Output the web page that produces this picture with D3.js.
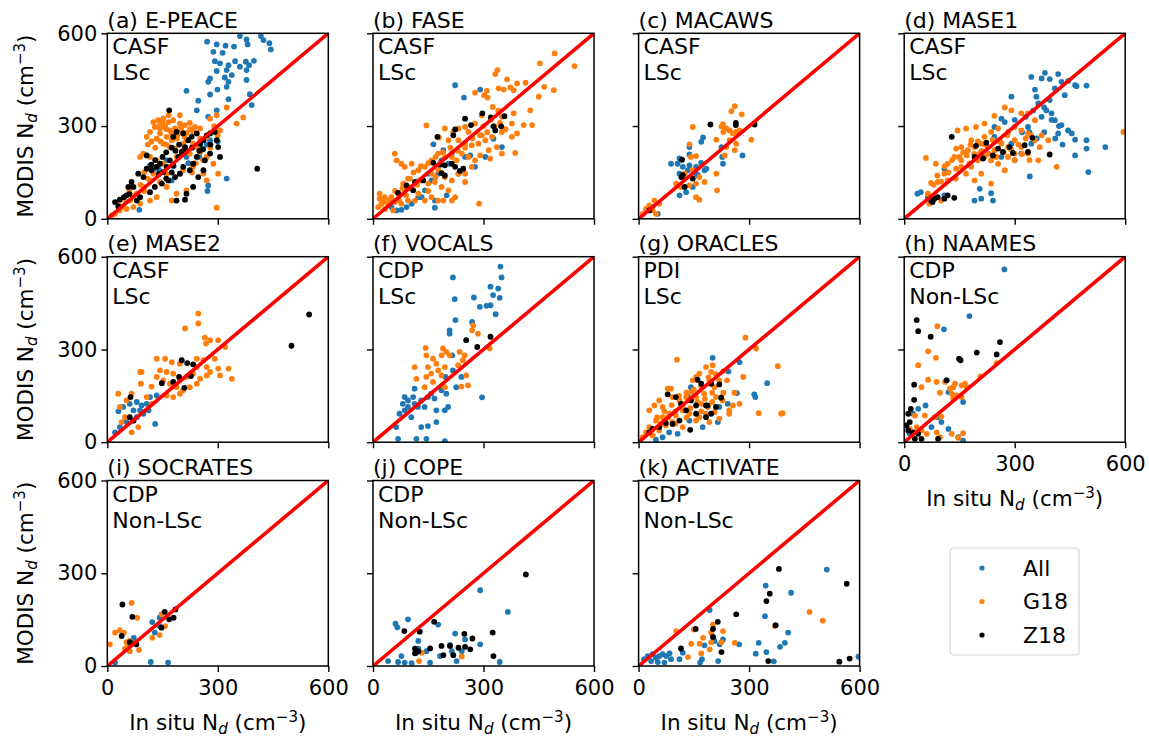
<!DOCTYPE html>
<html>
<head>
<meta charset="utf-8">
<script src="https://cdn.jsdelivr.net/npm/d3@7"></script>
<style>
  body { margin: 0; background: #fff; }
  text { font-family: "DejaVu Sans", sans-serif; }
</style>
</head>
<body>
<script>
// panel labels
var campaigns = ["(a) E-PEACE", "(b) FASE", "(c) MACAWS", "(d) MASE1", "(e) MASE2", "(f) VOCALS",
  "(g) ORACLES", "(h) NAAMES", "(i) SOCRATES", "(j) COPE", "(k) ACTIVATE"];
var probes = ["CASF", "CASF", "CASF", "CASF", "CASF", "CDP", "PDI", "CDP", "CDP", "CDP", "CDP"];
var regimes = ["LSc", "LSc", "LSc", "LSc", "LSc", "LSc", "LSc", "Non-LSc", "Non-LSc", "Non-LSc", "Non-LSc"];
var seriesNames = ["All", "G18", "Z18"];
var seriesColors = ["#1f77b4", "#ff7f0e", "#000000"];
var xTicks = [0, 300, 600];
var yTicks = [0, 300, 600];

// [in situ Nd, MODIS Nd]
var ePeaceAll = [[271,573],[297,564],[321,560],[344,557],[360,591],[378,580],[381,564],[417,591],[424,578],[440,568],[444,548],[288,540],[313,537],[292,510],[306,503],[329,497],[347,510],[324,481],[360,492],[376,508],[385,497],[398,511],[378,481],[297,478],[319,457],[329,443],[324,427],[338,465],[279,454],[274,443],[279,402],[299,418],[215,414],[329,387],[378,449],[387,403],[392,368],[247,382],[243,351],[297,351],[274,330],[116,173],[129,162],[175,124],[324,130],[272,90],[87,29],[274,108],[161,189],[215,200],[252,232],[279,254],[197,146],[140,160],[180,170],[220,180],[250,200],[270,240],[300,250]];
var ePeaceG18 = [[125,313],[138,319],[152,324],[166,313],[179,319],[197,308],[211,303],[224,310],[238,297],[129,297],[143,292],[157,299],[170,286],[184,292],[202,284],[215,278],[143,276],[161,265],[175,254],[188,259],[206,243],[134,259],[152,243],[170,232],[184,227],[116,281],[107,265],[98,211],[89,200],[116,200],[134,189],[152,178],[188,200],[233,243],[252,259],[270,265],[279,324],[297,335],[324,360],[351,308],[369,328],[306,286],[252,216],[270,200],[288,178],[301,146],[261,146],[270,124],[233,168],[206,157],[215,92],[188,81],[161,103],[143,119],[134,70],[116,59],[89,49],[71,38],[52,32],[34,27],[21,16],[12,11],[30,43],[62,59],[80,81],[98,103],[116,124],[297,36],[175,59],[161,146],[125,146],[233,281],[252,292],[197,335],[166,335],[143,303],[215,254],[243,232],[206,222],[224,211],[110,240],[120,250],[130,230],[145,250],[160,240],[175,275],[190,270],[200,295],[150,310],[160,290],[225,290],[210,265],[100,150],[110,130],[60,90],[70,75],[40,40],[50,55],[90,110],[100,90],[230,150],[240,180],[260,190],[280,230],[290,300],[300,270]];
var ePeaceZ18 = [[21,54],[34,62],[52,76],[71,103],[66,119],[84,146],[98,135],[107,162],[120,157],[134,168],[143,178],[152,151],[161,168],[170,189],[179,173],[193,200],[202,216],[211,232],[220,254],[229,265],[243,276],[252,243],[261,254],[270,270],[279,276],[292,281],[297,254],[301,232],[306,200],[279,211],[265,189],[243,200],[233,178],[224,157],[206,168],[197,146],[184,135],[166,124],[148,114],[129,103],[116,86],[89,70],[80,59],[57,103],[107,205],[233,103],[215,81],[188,59],[247,135],[261,157],[206,276],[188,281],[179,265],[168,351],[407,162],[211,62],[120,175],[130,190],[150,200],[160,215],[175,230],[185,220],[195,240],[215,220],[230,230],[250,220],[260,225],[280,240],[140,145],[160,130],[175,150],[60,80],[45,70],[30,40]];

var faseAll = [[223,432],[291,418],[247,392],[164,241],[191,222],[168,59],[50,38],[64,27],[77,29],[91,38],[105,49],[123,70],[141,92],[159,124],[177,146],[205,178],[214,211],[250,200],[264,205],[277,168],[305,200],[350,232],[327,259],[168,36],[132,70],[200,76],[232,146],[186,189],[150,146]];
var faseG18 = [[493,535],[547,494],[453,503],[338,481],[332,468],[364,451],[391,438],[382,416],[341,422],[355,418],[373,425],[309,414],[277,408],[302,400],[311,392],[414,440],[465,427],[491,416],[450,395],[427,351],[382,341],[350,330],[325,362],[295,335],[277,308],[250,297],[259,281],[232,292],[218,281],[195,292],[179,263],[205,254],[232,254],[250,243],[268,238],[286,243],[305,254],[323,265],[295,270],[350,281],[377,308],[409,303],[432,303],[391,276],[377,265],[336,232],[314,222],[291,205],[318,195],[350,211],[386,213],[277,189],[259,200],[241,211],[227,189],[214,200],[195,200],[177,211],[159,189],[145,302],[59,211],[64,189],[77,178],[86,168],[105,178],[123,157],[141,168],[159,146],[177,157],[195,135],[214,124],[232,146],[250,146],[186,103],[205,92],[223,70],[214,59],[177,59],[159,70],[141,59],[123,81],[105,103],[86,92],[68,81],[50,70],[32,70],[18,65],[23,49],[41,49],[59,54],[77,49],[95,59],[114,59],[14,38],[32,32],[55,27],[18,81],[82,114],[95,130],[288,49],[191,59],[250,119],[268,168],[127,124],[150,114],[168,119],[100,130],[110,150],[130,170],[150,180],[170,200],[190,215],[210,230],[230,220],[250,230],[270,260],[290,270],[310,280],[330,300],[345,310],[360,290],[300,300],[320,320],[340,350],[60,90],[80,100],[100,100],[120,110],[30,55],[45,60],[70,60],[90,75],[150,90],[170,135]];
var faseZ18 = [[250,324],[297,341],[320,328],[357,332],[223,289],[218,270],[266,303],[327,299],[348,299],[332,286],[175,265],[164,181],[182,175],[195,173],[214,178],[223,168],[236,155],[245,162],[186,148],[195,140],[136,124],[114,119],[91,108],[109,92],[68,84]];

var macawsAll = [[175,263],[170,249],[138,232],[138,208],[111,195],[88,178],[106,178],[120,168],[138,173],[156,168],[170,181],[179,157],[184,162],[156,146],[134,157],[111,146],[225,232],[227,200],[229,178],[282,205],[111,76],[129,86],[147,103],[161,141],[52,16],[38,38]];
var macawsG18 = [[261,364],[280,338],[252,348],[229,306],[225,299],[147,297],[238,292],[247,286],[256,276],[265,281],[274,286],[230,281],[211,256],[306,256],[247,254],[265,243],[138,241],[261,222],[234,205],[238,232],[156,203],[142,200],[125,146],[147,157],[165,135],[179,119],[156,114],[138,108],[102,114],[115,103],[211,146],[213,92],[156,70],[165,62],[20,32],[29,43],[38,27],[47,16],[56,49],[43,59],[11,16]];
var macawsZ18 = [[195,305],[264,303],[315,305],[264,310],[118,191],[116,135],[120,141],[125,103],[147,130],[29,27]];

var mase1All = [[345,459],[382,472],[373,454],[395,452],[418,468],[427,443],[445,446],[464,432],[468,429],[495,431],[355,418],[359,395],[409,422],[436,400],[395,384],[364,373],[386,351],[373,330],[400,341],[409,319],[427,303],[445,286],[418,276],[455,276],[464,256],[495,254],[495,227],[546,232],[464,205],[500,151],[291,395],[264,324],[245,297],[273,313],[336,297],[345,243],[318,211],[264,200],[300,189],[341,137],[191,59],[209,65],[241,59],[236,83],[205,97],[45,86],[36,81],[64,70],[109,76],[109,162],[291,243],[245,265],[330,330],[350,350],[380,360],[400,320],[420,300],[340,280],[360,260],[380,280],[410,260],[430,240],[300,320],[320,280]];
var mase1G18 = [[595,281],[245,333],[273,360],[291,351],[318,341],[145,286],[168,292],[195,297],[218,308],[236,281],[255,292],[282,281],[300,297],[318,286],[336,276],[355,254],[368,232],[336,211],[318,232],[300,254],[282,232],[264,243],[245,222],[227,232],[209,243],[191,232],[173,222],[155,232],[141,227],[136,200],[155,189],[177,178],[200,189],[218,200],[236,189],[255,178],[282,200],[300,211],[273,157],[236,114],[209,146],[191,124],[168,146],[141,162],[118,178],[86,178],[59,197],[109,146],[91,119],[73,116],[64,81],[100,59],[68,49],[364,189],[414,168],[373,270],[391,254],[336,341],[355,319],[218,265],[182,254],[205,211],[182,168],[155,168],[118,124],[150,200],[170,205],[190,210],[210,220],[230,210],[250,200],[270,215],[290,225],[310,240],[330,260],[345,270],[260,250],[240,255],[220,240],[200,250],[180,240],[160,215],[130,190],[110,170],[90,140],[80,110],[100,120],[120,150],[140,130],[300,190],[320,210],[340,190],[280,270]];
var mase1Z18 = [[129,265],[195,236],[223,246],[255,227],[286,232],[327,238],[191,200],[214,195],[241,205],[268,216],[295,213],[336,216],[395,208],[348,262],[73,59],[82,65],[91,70],[109,65],[118,76],[136,68],[77,54]];

var mase2All = [[30,100],[43,114],[61,124],[80,130],[93,119],[107,124],[112,103],[134,151],[130,59],[98,92],[80,81],[71,70],[52,65],[34,49],[21,32],[89,103],[71,103],[116,146]];
var mase2G18 = [[247,416],[247,384],[211,368],[265,338],[279,330],[301,330],[320,308],[268,319],[134,270],[157,270],[175,259],[197,254],[243,270],[261,265],[292,270],[243,243],[270,243],[301,238],[329,238],[306,216],[338,205],[143,232],[161,227],[179,222],[134,211],[152,200],[170,189],[188,178],[206,168],[224,178],[243,189],[197,200],[215,211],[233,222],[252,205],[270,216],[279,227],[120,180],[161,151],[179,146],[197,157],[91,189],[93,227],[89,227],[30,157],[66,157],[34,114],[48,81],[39,65],[66,32],[84,49],[107,146],[120,124],[52,135]];
var mase2Z18 = [[548,413],[500,312],[202,265],[217,256],[233,252],[195,211],[227,214],[148,191],[179,195],[209,176],[63,146],[61,81],[71,70]];

var vocalsAll = [[346,568],[349,533],[217,533],[319,503],[340,497],[326,476],[344,467],[222,463],[274,468],[290,438],[308,441],[319,443],[333,414],[224,395],[269,389],[208,362],[208,351],[217,232],[215,281],[197,211],[240,211],[226,178],[296,145],[199,157],[195,103],[204,114],[172,65],[149,52],[131,49],[118,11],[145,11],[195,3],[68,11],[63,49],[72,92],[86,103],[104,81],[113,173],[86,146],[95,135],[113,124],[131,135],[122,114],[81,124],[95,114],[109,146],[149,146],[158,157],[167,141],[172,103],[140,114],[186,168]];
var vocalsG18 = [[272,378],[269,362],[285,351],[143,305],[145,281],[190,303],[199,292],[186,281],[208,281],[235,292],[249,281],[244,265],[163,270],[172,254],[149,243],[177,232],[195,243],[113,243],[118,205],[145,211],[163,195],[140,178],[195,178],[240,180],[258,184],[253,216],[231,249],[317,303],[158,222],[186,216]];
var vocalsZ18 = [[253,330],[283,308],[319,341]];

var oraclesAll = [[201,273],[274,259],[244,229],[349,191],[314,155],[317,146],[267,159],[142,178],[133,151],[242,124],[219,114],[215,65],[106,27],[83,32],[47,8],[65,16],[174,49],[138,70]];
var oraclesG18 = [[290,338],[319,303],[104,267],[378,246],[284,211],[326,94],[387,92],[391,94],[274,124],[256,119],[246,103],[183,243],[201,249],[197,227],[165,222],[156,211],[147,200],[192,200],[206,178],[219,200],[79,173],[88,173],[43,119],[65,114],[92,146],[111,135],[129,146],[142,162],[156,146],[170,124],[188,114],[206,97],[192,65],[165,81],[138,92],[120,103],[101,86],[83,92],[65,81],[47,70],[29,49],[20,32],[11,16],[38,22],[56,38],[74,54],[92,65],[120,49],[156,70],[178,157],[210,146],[228,135],[183,92],[219,76],[29,103],[56,135],[246,92],[60,60],[80,80],[100,100],[120,120],[140,110],[160,130],[180,140],[200,160],[170,180],[150,170],[130,160],[110,150],[90,120],[70,100],[50,80],[190,210],[210,220],[230,230],[240,200],[260,160],[100,60],[130,80],[170,100],[200,130],[230,160]];
var oraclesZ18 = [[160,202],[170,189],[197,189],[219,187],[79,155],[101,146],[115,124],[142,135],[156,119],[183,119],[224,144],[210,114],[197,92],[183,81],[156,92],[129,103],[111,70],[92,59],[74,62],[56,49],[38,43],[29,32],[140,40],[187,119]];

var naamesAll = [[272,559],[177,408],[108,365],[115,200],[120,162],[160,130],[58,119],[38,108],[24,92],[92,81],[101,65],[74,49],[120,43],[160,5],[147,16],[15,27]];
var naamesG18 = [[90,375],[65,294],[86,273],[38,249],[65,202],[88,195],[111,195],[47,178],[97,160],[124,173],[133,178],[138,189],[156,184],[165,189],[170,178],[129,157],[142,151],[133,141],[156,146],[207,213],[251,256],[29,86],[56,86],[83,81],[101,83],[34,49],[47,38],[61,27],[88,32],[97,16],[129,27],[147,14],[160,29],[15,43]];
var naamesZ18 = [[34,395],[38,359],[72,341],[149,270],[153,265],[197,290],[251,284],[260,324],[115,200],[27,186],[27,137],[18,108],[11,92],[15,65],[6,54],[11,38],[24,32],[38,27],[29,11],[47,11],[92,11]];

var socratesAll = [[21,11],[118,13],[165,11],[122,142],[129,108],[142,156],[142,129],[72,91],[70,75]];
var socratesG18 = [[66,204],[7,70],[21,108],[34,116],[45,108],[52,77],[48,56],[57,65],[66,70],[81,156],[61,48],[86,52],[122,91],[142,100],[157,129],[147,167],[61,81]];
var socratesZ18 = [[41,199],[68,159],[39,97],[61,77],[79,70],[147,124],[156,175],[168,151],[180,156],[185,183]];

var copeAll = [[291,245],[366,175],[95,151],[61,137],[66,125],[177,134],[223,105],[250,86],[291,70],[209,68],[123,81],[123,56],[145,48],[77,32],[41,16],[68,13],[86,11],[105,9],[155,11],[182,32],[227,16],[344,13],[118,43],[214,48],[241,48]];
var copeG18 = [[132,43],[125,16],[241,31]];
var copeZ18 = [[415,296],[166,143],[85,113],[127,111],[248,104],[325,108],[270,89],[209,65],[186,65],[155,57],[114,56],[123,48],[114,41],[232,59],[250,62],[264,54],[191,35],[218,35],[327,32]];

var activateAll = [[511,312],[345,260],[414,237],[193,181],[343,161],[406,108],[397,75],[384,62],[326,75],[318,40],[347,45],[367,15],[273,70],[220,70],[206,81],[229,86],[179,67],[172,22],[167,11],[216,16],[597,30],[15,22],[25,32],[38,38],[47,27],[56,32],[65,38],[75,32],[84,41],[34,16],[52,13],[70,11],[111,22],[120,43],[88,22]];
var activateG18 = [[464,175],[500,147],[102,113],[150,118],[197,108],[229,113],[175,91],[143,72],[166,72],[197,77],[225,77],[193,54],[170,41],[134,29],[261,75],[370,129],[202,134]];
var activateZ18 = [[381,314],[565,266],[356,234],[347,210],[265,167],[215,143],[372,132],[155,120],[202,120],[202,94],[115,57],[225,45],[352,16],[545,14],[573,24]];

var panelData = [
  [ePeaceAll, ePeaceG18, ePeaceZ18],
  [faseAll, faseG18, faseZ18],
  [macawsAll, macawsG18, macawsZ18],
  [mase1All, mase1G18, mase1Z18],
  [mase2All, mase2G18, mase2Z18],
  [vocalsAll, vocalsG18, vocalsZ18],
  [oraclesAll, oraclesG18, oraclesZ18],
  [naamesAll, naamesG18, naamesZ18],
  [socratesAll, socratesG18, socratesZ18],
  [copeAll, copeG18, copeZ18],
  [activateAll, activateG18, activateZ18]
];

var width = 1149, height = 739;
var svg = d3.select("body").append("svg")
    .attr("width", width)
    .attr("height", height);

var colX = [107.3, 373, 638.6, 904.2];
var rowY = [33.3, 256.7, 480.5];
var pw = 221, ph = 185.5;
var tickFs = 21, labelFs = 21.5, titleFs = 22, noteFs = 22;

var x = d3.scaleLinear().domain([0, 600]).range([0, pw]);
var y = d3.scaleLinear().domain([0, 600]).range([ph, 0]);

svg.append("defs").append("clipPath").attr("id", "clip")
  .append("rect").attr("width", pw).attr("height", ph);

function ndLabel(t, prefix) {
  t.append("tspan").text(prefix + " N");
  t.append("tspan").attr("font-style", "italic").attr("font-size", labelFs * 0.7).attr("dy", 4).text("d");
  t.append("tspan").attr("dy", -4).text(" (cm");
  t.append("tspan").attr("font-size", labelFs * 0.7).attr("dy", -8).text("\u22123");
  t.append("tspan").attr("dy", 8).text(")");
}

campaigns.forEach(function(name, i) {
  var col = i % 4, row = Math.floor(i / 4);
  var g = svg.append("g").attr("transform", "translate(" + colX[col] + "," + rowY[row] + ")");
  var showY = col == 0;
  var showX = row == 2 || i == 7;

  var plot = g.append("g").attr("clip-path", "url(#clip)");
  panelData[i].forEach(function(pts, s) {
    plot.selectAll(".dot" + s)
      .data(pts)
      .enter().append("circle")
        .attr("cx", function(d) { return x(d[0]); })
        .attr("cy", function(d) { return y(d[1]); })
        .attr("r", 2.9)
        .attr("fill", seriesColors[s]);
  });

  plot.append("line")
      .attr("x1", x(0)).attr("y1", y(0))
      .attr("x2", x(600)).attr("y2", y(600))
      .attr("stroke", "#ff0000")
      .attr("stroke-width", 3.6);

  var ya = g.append("g")
      .call(d3.axisLeft(y).tickValues(yTicks).tickSize(6).tickPadding(4)
        .tickFormat(showY ? d3.format("d") : ""));
  var xa = g.append("g").attr("transform", "translate(0," + ph + ")")
      .call(d3.axisBottom(x).tickValues(xTicks).tickSize(6).tickPadding(8)
        .tickFormat(showX ? d3.format("d") : ""));
  [ya, xa].forEach(function(a) {
    a.select(".domain").remove();
    a.selectAll("line").attr("stroke", "#000").attr("stroke-width", 1.4);
    a.selectAll("text").attr("font-size", tickFs).attr("fill", "#000")
      .attr("font-family", "DejaVu Sans, sans-serif");
  });

  g.append("rect")
      .attr("width", pw).attr("height", ph)
      .attr("fill", "none").attr("stroke", "#000").attr("stroke-width", 1.5);

  g.append("text").attr("x", 0).attr("y", -5.5).attr("font-size", titleFs).text(name);
  g.append("text").attr("x", 5).attr("y", 21).attr("font-size", noteFs).text(probes[i]);
  g.append("text").attr("x", 5).attr("y", 47).attr("font-size", noteFs).text(regimes[i]);

  if (showY) {
    var yl = g.append("text")
        .attr("transform", "translate(" + (-74) + "," + (ph / 2) + ") rotate(-90)")
        .attr("text-anchor", "middle").attr("font-size", labelFs);
    ndLabel(yl, "MODIS");
  }
  if (showX) {
    var xl = g.append("text")
        .attr("x", pw / 2).attr("y", ph + 64)
        .attr("text-anchor", "middle").attr("font-size", labelFs);
    ndLabel(xl, "In situ");
  }
});

// legend
var lg = svg.append("g").attr("transform", "translate(950,548)");
lg.append("rect").attr("width", 129).attr("height", 107).attr("rx", 4)
  .attr("fill", "#fff").attr("stroke", "#d6d6d6").attr("stroke-width", 1.2);
seriesNames.forEach(function(n, s) {
  lg.append("circle").attr("cx", 32).attr("cy", 20 + s * 33.5).attr("r", 2.6).attr("fill", seriesColors[s]);
  lg.append("text").attr("x", 73).attr("y", 20 + s * 33.5).attr("dy", "0.36em")
    .attr("font-size", noteFs).text(n);
});
</script>
</body>
</html>
